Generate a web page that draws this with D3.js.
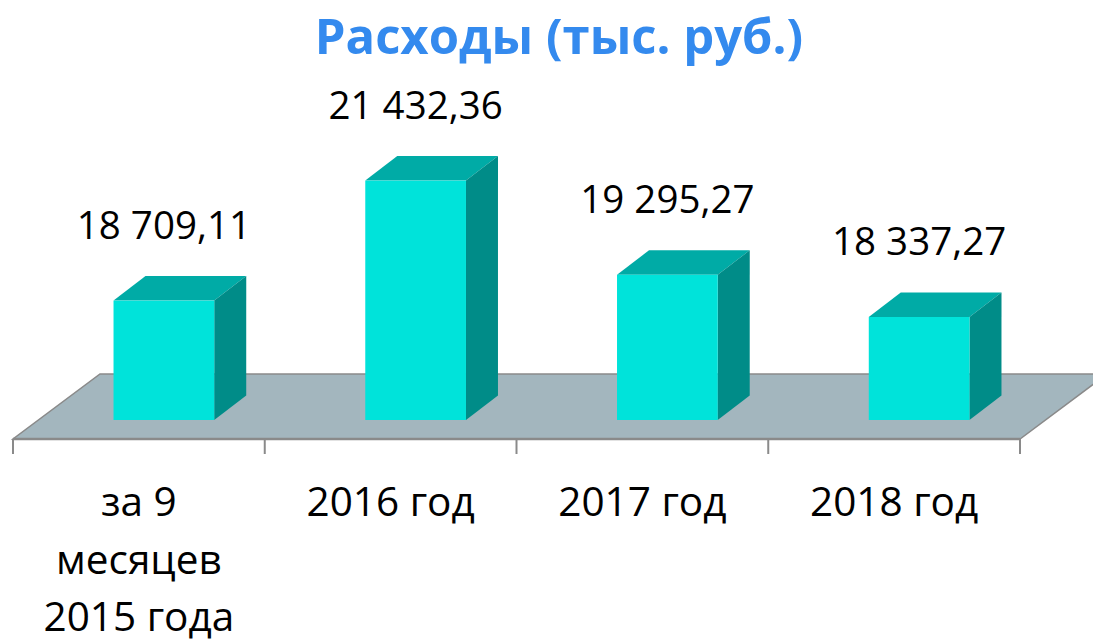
<!DOCTYPE html>
<html lang="ru">
    <head>
        <meta charset="utf-8">
        <title>Расходы</title>
        <script src="https://d3js.org/d3.v7.min.js"></script>
        <style type="text/css">
            body { margin: 0; background: #fff; }
            text { font-family: "Open Sans", sans-serif; }
            .title { font-size: 49px; font-weight: bold; fill: #348AEE; }
            .labels { font-size: 38.5px; fill: #000; }
            .cats { font-size: 40.5px; fill: #000; }
        </style>
    </head>
    <body>
        <script type="text/javascript">

            //Data
            const categories = [["за 9", "месяцев", "2015 года"], ["2016 год"], ["2017 год"], ["2018 год"]];
            const values = [18709.11, 21432.36, 19295.27, 18337.27];
            const titleText = "Расходы (тыс. руб.)";

            //declare consts
            const w = 1093;
            const h = 644;
            const colFront = "#00E3DA", colTop = "#00ABA6", colSide = "#008C88";
            const floorFill = "#A3B6BE", edgeCol = "#8A8A8A";

            //3d offsets
            const floorDx = 87, floorDy = -65;   // depth of the floor
            const barInDx = 25, barInDy = -19;   // how far the bar front sits into the floor
            const barDx = 32, barDy = -24.5;     // bar depth

            const floorFrontY = 439;
            const baseY = floorFrontY + barInDy;

            const ru = d3.formatLocale({decimal: ",", thousands: " ", grouping: [3], currency: ["", ""]});
            const fmt = ru.format(",.2f");

            const x = d3.scaleBand()
                        .domain(d3.range(categories.length))
                        .range([13, 1020])
                        .padding(0);

            const y = d3.scaleLinear()
                        .domain([16000, 22000])
                        .range([baseY, baseY - 264.4]);

            const svg = d3.select("body")
                    .append("svg")
                    .attr("width", w)
                    .attr("height", h);

            //title
            svg.append("text")
               .attr("class", "title")
               .attr("x", 559)
               .attr("y", 54)
               .attr("text-anchor", "middle")
               .text(titleText);

            //floor
            const x0 = x.range()[0], x1 = x.range()[1];
            svg.append("path")
               .attr("d", `M${x0},${floorFrontY}L${x1},${floorFrontY}L${x1 + floorDx},${floorFrontY + floorDy}L${x0 + floorDx},${floorFrontY + floorDy}Z`)
               .attr("fill", floorFill)
               .attr("stroke", edgeCol)
               .attr("stroke-width", 1.5);
            svg.append("line")
               .attr("x1", x0).attr("x2", x1)
               .attr("y1", floorFrontY).attr("y2", floorFrontY)
               .attr("stroke", edgeCol)
               .attr("stroke-width", 2.5);

            //ticks
            const tickPos = x.domain().map(d => x(d)).concat([x1]);
            svg.selectAll("line.tick")
               .data(tickPos)
               .enter()
               .append("line")
               .attr("class", "tick")
               .attr("x1", d => d).attr("x2", d => d)
               .attr("y1", floorFrontY).attr("y2", floorFrontY + 15)
               .attr("stroke", edgeCol)
               .attr("stroke-width", 2);

            //bars
            const barW = x.bandwidth() * 0.4;
            const groups = svg.selectAll("g.bar")
                              .data(values)
                              .enter()
                              .append("g")
                              .attr("class", "bar");

            const left = (d, i) => x(i) + (x.bandwidth() - barW) / 2 + barInDx;

            groups.append("path") // top
                  .attr("fill", colTop)
                  .attr("d", (d, i) => {
                      const l = left(d, i), t = y(d);
                      return `M${l},${t}L${l + barW},${t}L${l + barW + barDx},${t + barDy}L${l + barDx},${t + barDy}Z`;
                  });
            groups.append("path") // side
                  .attr("fill", colSide)
                  .attr("d", (d, i) => {
                      const r = left(d, i) + barW, t = y(d);
                      return `M${r},${t}L${r + barDx},${t + barDy}L${r + barDx},${baseY + barDy}L${r},${baseY}Z`;
                  });
            groups.append("rect") // front
                  .attr("fill", colFront)
                  .attr("x", left)
                  .attr("y", d => y(d))
                  .attr("width", barW)
                  .attr("height", d => baseY - y(d));

            //value labels
            groups.append("text")
                  .attr("class", "labels")
                  .attr("text-anchor", "middle")
                  .attr("x", (d, i) => left(d, i) + barW / 2)
                  .attr("y", d => y(d) - 62)
                  .text(d => fmt(d));

            //category labels
            const cat = svg.selectAll("text.cats")
                           .data(categories)
                           .enter()
                           .append("text")
                           .attr("class", "cats")
                           .attr("text-anchor", "middle")
                           .attr("transform", (d, i) => `translate(${x(i) + x.bandwidth() / 2},516)`);
            cat.selectAll("tspan")
               .data(d => d)
               .enter()
               .append("tspan")
               .attr("x", 0)
               .attr("dy", (d, j) => j === 0 ? 0 : 57.5)
               .text(d => d);

        </script>
    </body>
</html>
